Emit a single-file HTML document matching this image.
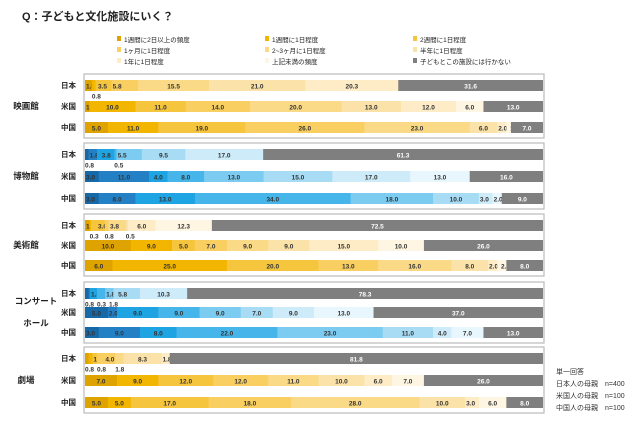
<!DOCTYPE html>
<html><head><meta charset="utf-8">
<style>
body{margin:0;background:#fff;font-family:"Liberation Sans","Noto Sans CJK JP",sans-serif;}
#wrap{position:relative;width:640px;height:423px;overflow:hidden;}
svg text{font-family:"Liberation Sans","Noto Sans CJK JP",sans-serif;}
</style></head>
<body>
<div id="wrap">
<svg id="chart" width="640" height="423">
<text x="22" y="20" font-size="11" font-weight="bold" fill="#222">Q：子どもと文化施設にいく？</text>
<g id="legend"></g>
<g id="bars"></g>
<text x="556" y="374" font-size="7" fill="#333">単一回答</text>
<text x="556" y="386" font-size="7" fill="#333">日本人の母親　n=400</text>
<text x="556" y="398" font-size="7" fill="#333">米国人の母親　n=100</text>
<text x="556" y="410" font-size="7" fill="#333">中国人の母親　n=100</text>
</svg>
</div>
<script>
const categories=["1週間に2日以上の頻度","1週間に1日程度","2週間に1日程度","1ヶ月に1日程度","2~3ヶ月に1日程度","半年に1日程度","1年に1日程度","上記未満の頻度","子どもとこの施設には行かない"];
const facilities=["映画館","博物館","美術館","コンサートホール","劇場"];
const countries=["日本","米国","中国"];
const cinemaJP=[1.5,0.8,3.5,5.8,15.5,21.0,20.3,0,31.6];
const cinemaUS=[1,10,11,14,20,13,12,6,13];
const cinemaCN=[5,11,19,26,23,6,2,1,7];
const museumJP=[0.8,1.8,3.8,0.5,5.5,9.5,17.0,0,61.3];
const museumUS=[3,11,4,8,13,15,17,13,16];
const museumCN=[3,8,13,34,18,10,3,2,9];
const artJP=[1.0,0.3,3.0,0.8,3.8,0.5,6.0,12.3,72.5];
const artUS=[10,9,5,7,9,9,15,10,26];
const artCN=[6,25,20,13,16,8,2,2,8];
const concertJP=[0.8,0.3,1.5,1.8,1.8,5.8,10.3,0,78.3];
const concertUS=[5,2,9,9,9,7,9,13,37];
const concertCN=[3,9,8,22,23,11,4,7,13];
const theaterJP=[0.8,0.8,1.0,4.0,1.8,8.3,1.8,0,81.8];
const theaterUS=[7,9,12,12,11,10,6,7,26];
const theaterCN=[5,5,17,18,28,10,3,6,8];
const series=[[cinemaJP,cinemaUS,cinemaCN],[museumJP,museumUS,museumCN],[artJP,artUS,artCN],[concertJP,concertUS,concertCN],[theaterJP,theaterUS,theaterCN]];

const orange=["#dfa300","#f2b600","#f6c53e","#f8cf60","#fad987","#fbe2a8","#fdecc6","#fef6e3","#7f7f7f"];
const blue=["#1768a6","#2480c4","#1ea3e3","#45b5ea","#7ccbf0","#a8dcf5","#cdebf9","#e8f6fd","#7f7f7f"];
const groupY=[[80,101,122],[149,171,193],[220,240,260],[288,307,327],[353,375,397]];
const X0=85,X1=543,BH=11;
const xs=v=>X0+v*(X1-X0)/100;
const NS="http://www.w3.org/2000/svg";
function mk(tag,attrs){const e=document.createElementNS(NS,tag);for(const k in attrs)e.setAttribute(k,attrs[k]);return e;}

const leg=document.getElementById('legend');
categories.forEach((c,i)=>{
  const col=i%3,row=Math.floor(i/3);
  const x=117+col*148,y=42+row*11;
  const r=mk('rect',{x:x,y:y-6,width:4,height:5,fill:orange[i]});
  
  
  leg.appendChild(r);
  const t=mk('text',{x:x+7,y:y,'font-size':'6.5',fill:'#222'});
  t.textContent=c;
  
  
  leg.appendChild(t);
});

const g=document.getElementById('bars');
series.forEach((grp,gi)=>{
  const pal=gi%2===0?orange:blue;
  const ys=groupY[gi];
  const box=mk('rect',{x:X0-1,y:ys[0]-6,width:X1-X0+2,height:ys[2]+BH+5-(ys[0]-6),fill:'none',stroke:'#bbb','stroke-width':1.2});
  
  
  g.appendChild(box);
  const name=facilities[gi];
  const lines=name==="コンサートホール"?["コンサート","ホール"]:[name];
  lines.forEach((ln,li)=>{
    const t=mk('text',{x:lines.length>1?36:26,y:ys[1]+8+(li-(lines.length-1)/2)*22,'font-size':'8.5','font-weight':'bold','text-anchor':'middle',fill:'#222'});
    t.textContent=ln;
    
    
    g.appendChild(t);
  });
  grp.forEach((vals,ci)=>{
    const y=ys[ci];
    const cl=mk('text',{x:61,y:y+8,'font-size':'7.5','font-weight':'bold',fill:'#222'});
    cl.textContent=countries[ci];
    
    
    g.appendChild(cl);
    let acc=0,insideEnd=0,belowEnd=0;
    vals.forEach((v,k)=>{
      if(v<=0)return;
      const x=xs(acc),w=Math.min(xs(acc+v),X1)-x;
      const r=mk('rect',{x:x,y:y,width:Math.max(0,Math.min(w+0.3,X1-x)),height:BH,fill:pal[k]});
      
      
      g.appendChild(r);
      const t=mk('text',{'font-size':'6.5','font-weight':'bold',fill:k===8?'#fff':'#333'});
      const lab=v.toFixed(1);
      const tw=11;
      if(ci===0&&k!==8&&(v<1||(v<3&&x<insideEnd))){
        const bx=Math.max(x,belowEnd+1);
        t.setAttribute('x',bx);t.setAttribute('y',y+BH+7.5);
        belowEnd=bx+tw;
      }else if(w<16||(ci===0&&v<6)){
        const ix=Math.max(x+1,insideEnd);
        t.setAttribute('x',ix);t.setAttribute('y',y+8.3);
        insideEnd=ix+tw+1;
      }else{
        t.setAttribute('x',x+w/2);t.setAttribute('y',y+8.3);t.setAttribute('text-anchor','middle');
        insideEnd=x+w/2+tw/2+1;
      }
      t.textContent=lab;
      
      
      g.appendChild(t);
      acc+=v;
    });
  });
});
</script>
</body></html>
